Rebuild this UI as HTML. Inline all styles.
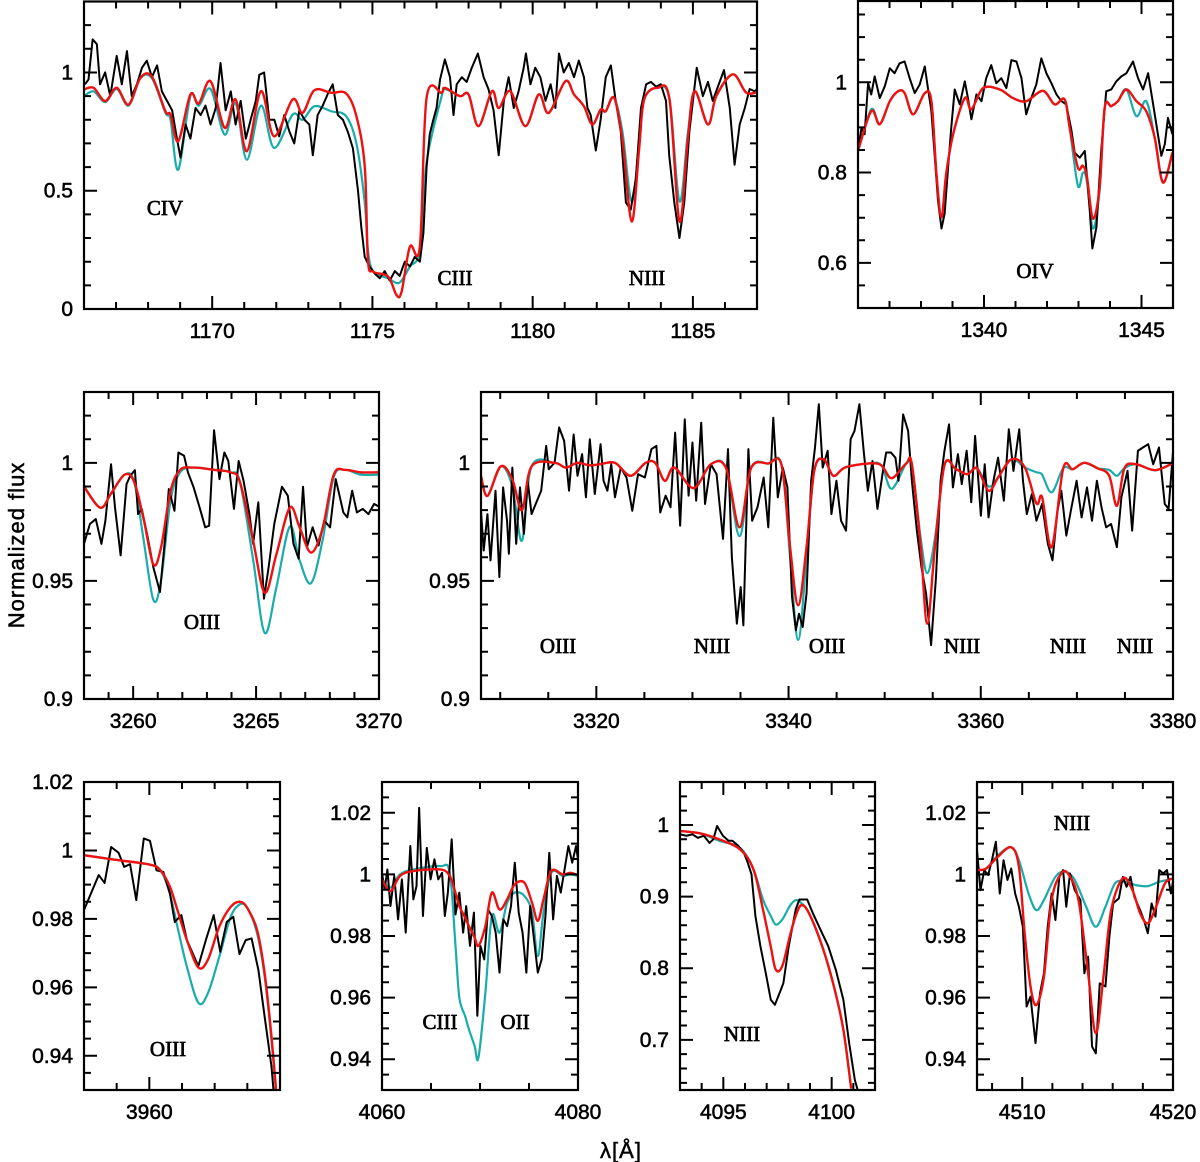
<!DOCTYPE html>
<html><head><meta charset="utf-8"><style>
html,body{margin:0;padding:0;background:#fff;}
svg{display:block;}
.tk{font-family:"Liberation Sans",sans-serif;font-size:21px;fill:#000;stroke:#000;stroke-width:0.55;}
.ln{font-family:"Liberation Serif",serif;font-size:21px;fill:#000;stroke:#000;stroke-width:0.7;}
.ax{font-family:"Liberation Sans",sans-serif;font-size:22px;fill:#000;stroke:#000;stroke-width:0.5;letter-spacing:1px;}
</style></head><body>
<svg id="chart" width="1200" height="1162" viewBox="0 0 1200 1162" xmlns="http://www.w3.org/2000/svg">
<text class="ax" transform="translate(24,545) rotate(-90)" text-anchor="middle">Normalized flux</text>
<text class="ax" x="621" y="1158" text-anchor="middle">λ[Å]</text>
</svg>
<script>
// ---------- Panel 1 (C IV / C III / N III, 1166-1187) ----------
const p1ObsWl=[1166.03,1166.14,1166.27,1166.40,1166.50,1166.66,1166.82,1167.02,1167.18,1167.34,1167.49,1167.65,1167.81,1167.96,1168.12,1168.28,1168.43,1168.59,1168.75,1168.90,1169.01,1169.17,1169.32,1169.48,1169.64,1169.79,1169.95,1170.11,1170.26,1170.42,1170.58,1170.73,1170.89,1171.05,1171.20,1171.36,1171.47,1171.62,1171.78,1171.94,1172.09,1172.25,1172.41,1172.56,1172.72,1172.88,1173.03,1173.14,1173.29,1173.45,1173.61,1173.76,1173.92,1174.08,1174.23,1174.39,1174.55,1174.65,1174.76,1174.91,1175.07,1175.23,1175.38,1175.54,1175.70,1175.85,1176.01,1176.17,1176.32,1176.48,1176.59,1176.69,1176.79,1176.90,1177.00,1177.11,1177.26,1177.42,1177.53,1177.63,1177.79,1177.94,1178.10,1178.29,1178.47,1178.62,1178.78,1178.94,1179.10,1179.25,1179.41,1179.56,1179.72,1179.79,1179.93,1180.08,1180.24,1180.40,1180.56,1180.71,1180.82,1180.97,1181.13,1181.29,1181.44,1181.60,1181.71,1181.81,1181.97,1182.12,1182.28,1182.44,1182.59,1182.75,1182.91,1183.06,1183.22,1183.38,1183.54,1183.69,1183.85,1184.00,1184.16,1184.26,1184.42,1184.58,1184.73,1184.89,1185.12,1185.31,1185.47,1185.62,1185.78,1185.97,1186.15,1186.30,1186.46,1186.62,1186.77,1186.93,1187.07];
const p1ObsFlux=[0.95,0.97,1.14,1.12,0.95,1.0,0.9,1.07,0.95,1.09,0.9,0.95,1.02,1.05,0.98,1.03,0.92,0.88,0.84,0.72,0.64,0.78,0.72,0.85,0.82,0.86,0.78,0.85,1.04,0.84,0.92,0.78,0.88,0.72,0.80,0.88,0.99,1.0,0.8,0.80,0.73,0.82,0.75,0.70,0.84,0.80,0.78,0.65,0.82,0.86,0.91,0.95,0.82,0.80,0.75,0.68,0.5,0.35,0.22,0.18,0.15,0.13,0.16,0.12,0.16,0.14,0.2,0.18,0.22,0.2,0.32,0.6,0.74,0.80,0.85,0.97,1.055,0.98,0.82,0.95,0.98,0.96,1.02,1.08,0.98,0.93,0.84,0.65,0.88,0.98,0.85,0.92,1.02,1.08,0.95,1.02,0.98,0.88,0.95,0.85,1.08,1.0,1.04,0.98,1.05,0.98,0.85,0.82,0.67,0.80,0.98,1.03,0.88,0.75,0.45,0.42,0.55,0.85,0.95,0.96,0.94,0.95,0.88,0.65,0.45,0.30,0.45,0.75,1.02,0.9,0.96,0.88,0.94,1.01,0.85,0.61,0.78,0.85,0.93,0.92,0.94];
const p1ModWl=[1166.0,1166.3,1166.66,1167.02,1167.39,1167.76,1168.12,1168.54,1168.70,1168.94,1169.32,1169.58,1169.95,1170.39,1170.73,1171.08,1171.52,1171.93,1172.51,1172.82,1173.19,1173.71,1174.18,1174.50,1174.76,1174.86,1175.02,1175.49,1175.75,1175.91,1176.17,1176.48,1176.69,1177.16,1177.26,1177.73,1178.0,1178.31,1178.73,1178.94,1179.30,1179.77,1180.19,1180.50,1181.02,1181.29,1181.60,1181.86,1182.12,1182.28,1182.54,1182.80,1183.09,1183.32,1183.48,1183.90,1184.27,1184.58,1184.84,1185.05,1185.47,1185.73,1186.25,1186.67,1187.07];
const p1Red=[0.928,0.935,0.879,0.935,0.864,0.977,0.982,0.836,0.822,0.709,0.907,0.869,0.963,0.766,0.886,0.667,0.921,0.730,0.886,0.829,0.925,0.914,0.911,0.815,0.603,0.208,0.158,0.137,0.059,0.073,0.264,0.264,0.893,0.914,0.935,0.900,0.907,0.773,0.921,0.850,0.921,0.773,0.907,0.829,0.963,0.907,0.857,0.780,0.843,0.836,0.893,0.716,0.370,0.674,0.886,0.935,0.886,0.370,0.716,0.921,0.780,0.900,0.992,0.914,0.921];
const p1Cyan=[0.90,0.92,0.875,0.93,0.86,0.975,0.975,0.83,0.80,0.589,0.90,0.86,0.93,0.737,0.87,0.631,0.86,0.681,0.822,0.80,0.857,0.836,0.815,0.70,0.45,0.25,0.16,0.13,0.11,0.12,0.18,0.25,0.62,0.90,0.93,0.900,0.907,0.773,0.921,0.850,0.921,0.773,0.907,0.829,0.963,0.907,0.857,0.780,0.843,0.836,0.893,0.75,0.455,0.70,0.886,0.935,0.886,0.455,0.74,0.921,0.780,0.900,0.992,0.914,0.921];

// ---------- Panel 2 (O IV, 1336-1346) ----------
const p2ObsWl=[1336.00,1336.11,1336.21,1336.32,1336.42,1336.53,1336.69,1336.85,1337.01,1337.16,1337.32,1337.48,1337.64,1337.80,1337.96,1338.12,1338.22,1338.33,1338.43,1338.54,1338.65,1338.75,1338.86,1338.96,1339.07,1339.23,1339.39,1339.49,1339.60,1339.76,1339.92,1340.07,1340.23,1340.39,1340.55,1340.71,1340.87,1341.03,1341.19,1341.34,1341.50,1341.66,1341.82,1341.98,1342.14,1342.30,1342.46,1342.61,1342.77,1342.88,1343.04,1343.20,1343.35,1343.44,1343.57,1343.72,1343.88,1344.04,1344.20,1344.36,1344.52,1344.73,1344.89,1345.05,1345.21,1345.37,1345.52,1345.63,1345.74,1345.84,1345.98];
const p2ObsFlux=[0.848,0.899,0.885,0.998,0.973,1.013,0.965,0.991,1.031,1.020,1.042,1.046,1.009,0.976,0.995,1.035,0.987,0.936,0.841,0.738,0.676,0.709,0.811,0.899,0.984,0.951,1.002,0.965,0.918,0.973,0.958,1.009,1.038,0.998,1.009,0.987,1.049,1.046,1.009,0.929,0.965,0.995,1.053,1.020,0.998,0.973,0.958,0.951,0.896,0.844,0.833,0.848,0.723,0.632,0.679,0.848,0.980,0.984,1.002,1.013,1.020,1.046,1.009,0.984,1.020,0.951,0.885,0.837,0.863,0.921,0.885];
const p2ModWl=[1336.00,1336.42,1336.69,1337.01,1337.27,1337.48,1337.75,1338.12,1338.33,1338.49,1338.65,1338.80,1339.02,1339.39,1339.60,1339.97,1340.50,1340.92,1341.34,1341.87,1342.24,1342.56,1342.72,1342.98,1343.14,1343.27,1343.46,1343.67,1343.83,1344.04,1344.25,1344.52,1344.84,1345.15,1345.42,1345.68,1345.98];
const p2Red=[0.848,0.936,0.907,0.958,0.980,0.976,0.929,0.976,0.958,0.797,0.701,0.797,0.885,0.965,0.940,0.987,0.984,0.965,0.958,0.981,0.951,0.962,0.899,0.811,0.815,0.789,0.698,0.768,0.943,0.947,0.958,0.984,0.958,0.936,0.877,0.778,0.844];
const p2Cyan=[0.848,0.940,0.907,0.958,0.980,0.976,0.929,0.976,0.958,0.797,0.701,0.797,0.885,0.965,0.940,0.987,0.984,0.965,0.958,0.981,0.951,0.962,0.899,0.771,0.800,0.780,0.676,0.760,0.943,0.947,0.958,0.984,0.925,0.958,0.877,0.778,0.844];

// ---------- Panel 3 (O III, 3258-3270) ----------
const p3ObsWl=[3258.0,3258.24,3258.48,3258.71,3258.87,3259.10,3259.26,3259.49,3259.73,3259.88,3260.07,3260.20,3260.35,3260.59,3260.82,3261.09,3261.29,3261.45,3261.68,3261.84,3262.07,3262.23,3262.46,3262.70,3262.93,3263.09,3263.29,3263.51,3263.71,3263.87,3264.10,3264.29,3264.49,3264.73,3264.88,3265.09,3265.32,3265.51,3265.74,3266.05,3266.29,3266.52,3266.73,3266.91,3267.07,3267.30,3267.54,3267.77,3268.01,3268.24,3268.55,3268.71,3268.91,3269.10,3269.34,3269.57,3269.80,3270.05];
const p3ObsFlux=[0.9657,0.9741,0.9762,0.9657,0.9755,0.9994,0.9812,0.9608,0.9910,0.9945,0.9969,0.9783,0.9805,0.9685,0.9558,0.9453,0.9671,0.9889,0.9797,1.0044,1.0030,0.9959,0.9896,0.9812,0.9727,0.9734,1.0138,0.9931,1.0044,1.0008,0.9805,1.0008,0.9924,0.9783,0.9657,0.9833,0.9425,0.9558,0.9741,0.9899,0.9861,0.9657,0.9594,0.9899,0.9643,0.9727,0.9650,0.9755,0.9727,0.9931,0.9790,0.9769,0.9882,0.9790,0.9805,0.9783,0.9826,0.9812];
const p3ModWl=[3258.0,3258.66,3259.10,3259.65,3260.04,3260.43,3260.82,3261.13,3261.52,3261.91,3262.46,3263.32,3263.95,3264.34,3264.88,3265.35,3265.82,3266.37,3266.76,3267.23,3267.70,3268.16,3268.63,3269.26,3270.06];
const p3Red=[0.990,0.981,0.987,0.995,0.992,0.976,0.957,0.964,0.988,0.997,0.998,0.997,0.996,0.992,0.967,0.945,0.961,0.981,0.973,0.962,0.972,0.995,0.997,0.996,0.996];
const p3Cyan=[0.990,0.981,0.987,0.995,0.992,0.967,0.942,0.950,0.984,0.996,0.998,0.997,0.996,0.992,0.959,0.928,0.947,0.973,0.959,0.949,0.967,0.994,0.997,0.995,0.995];

// ---------- Panel 4 (N III / O III, 3308-3380) ----------
const p4ObsWl=[3308.0,3308.28,3308.67,3308.99,3309.51,3309.91,3310.30,3310.71,3310.90,3311.26,3311.66,3312.06,3312.46,3312.86,3313.26,3314.26,3314.78,3315.05,3315.65,3316.13,3316.65,3317.16,3317.64,3318.04,3318.52,3318.92,3319.32,3319.84,3320.44,3320.75,3321.15,3321.55,3321.94,3322.54,3323.14,3323.74,3324.34,3325.05,3325.73,3326.25,3326.65,3327.21,3327.72,3328.20,3328.72,3329.20,3329.60,3330.00,3330.39,3330.91,3331.31,3331.91,3332.51,3333.18,3333.70,3334.10,3334.62,3335.02,3335.30,3335.82,3336.21,3336.77,3337.41,3337.89,3338.41,3338.88,3339.40,3339.88,3340.36,3340.76,3341.08,3341.47,3341.87,3342.35,3342.75,3343.15,3343.55,3344.07,3344.46,3344.98,3345.46,3345.98,3346.46,3346.86,3347.37,3347.85,3348.25,3348.73,3349.25,3349.77,3350.16,3350.64,3351.12,3351.44,3351.92,3352.44,3352.83,3353.35,3353.83,3354.31,3354.83,3355.34,3355.82,3356.22,3356.70,3357.10,3357.62,3358.02,3358.53,3359.01,3359.41,3360.01,3360.41,3360.81,3361.32,3361.80,3362.40,3362.92,3363.40,3364.00,3364.39,3364.79,3365.31,3365.79,3366.38,3366.98,3367.46,3367.98,3368.38,3368.90,3369.37,3369.97,3370.49,3371.05,3371.57,3372.08,3372.56,3373.04,3373.56,3374.16,3374.63,3375.27,3375.75,3376.35,3376.87,3377.42,3377.94,3378.54,3379.14,3379.54,3380.06];
const p4ObsFlux=[0.9797,0.9629,0.9783,0.9587,0.9882,0.9516,0.9896,0.9755,0.9615,0.9980,0.9657,0.9896,0.9699,0.9924,0.9783,0.9882,1.0072,0.9973,1.0000,1.0150,1.0093,0.9882,1.0120,0.9945,1.0037,0.9854,1.0100,0.9868,1.0079,0.9924,0.9882,0.9994,0.9854,0.9980,0.9938,0.9797,0.9952,0.9938,1.0058,1.0072,0.9790,0.9861,0.9812,1.0128,0.9734,1.0184,0.9861,1.0086,0.9840,1.0170,0.9826,0.9994,0.9952,0.9678,1.0058,0.9601,0.9319,0.9474,0.9312,1.0058,0.9755,0.9812,0.9938,0.9727,1.0191,0.9854,0.9980,0.9896,0.9432,0.9291,0.9361,0.9305,0.9446,0.9924,1.0065,1.0248,0.9980,1.0051,0.9783,0.9924,0.9755,0.9713,1.0100,1.0135,1.0248,1.0037,0.9882,1.0008,0.9805,0.9952,1.0044,1.0044,1.0022,0.9924,1.0205,1.0135,0.9924,0.9713,0.9558,0.9446,0.9228,0.9516,0.9924,1.0051,1.0163,0.9896,1.0037,0.9910,1.0051,0.9833,1.0114,0.9776,0.9994,0.9769,0.9924,1.0022,0.9840,1.0142,0.9966,1.0142,0.9924,0.9783,0.9868,0.9755,0.9826,0.9657,0.9587,0.9797,0.9882,0.9692,0.9797,0.9924,0.9769,0.9896,0.9755,0.9924,0.9812,0.9727,0.9741,0.9643,0.9854,0.9966,0.9713,1.0051,1.0065,1.0079,0.9994,1.0065,0.9826,0.9805,1.0079];
const p4ModWl=[3308.0,3308.67,3310.05,3311.26,3312.26,3313.26,3315.65,3316.84,3318.04,3319.24,3320.35,3321.94,3323.54,3325.13,3326.13,3327.13,3328.12,3330.12,3331.91,3333.50,3334.90,3336.09,3337.89,3339.28,3340.16,3341.00,3341.87,3342.67,3343.67,3344.66,3345.86,3348.25,3349.65,3350.72,3352.24,3352.83,3353.75,3354.43,3355.23,3356.22,3357.42,3358.61,3359.61,3360.81,3361.80,3363.20,3364.59,3365.79,3366.38,3367.38,3368.58,3369.57,3370.77,3372.16,3373.36,3374.16,3374.95,3376.15,3378.14,3380.06];
const p4Red=[0.9945,0.986,0.9985,0.993,0.980,0.9985,1.0,0.998,1.0,0.999,0.9994,1.0,0.9945,1.0,1.0,0.9924,0.998,0.9893,0.9994,0.9977,0.9727,0.9977,0.9997,0.999,0.9643,0.9397,0.9643,0.9966,1.0015,0.9945,0.998,0.9997,0.999,0.9935,0.9997,0.9994,0.9643,0.9319,0.9643,0.999,0.9973,0.9952,0.9977,0.9882,0.9938,1.0015,0.998,0.9828,0.9854,0.9643,0.9977,0.9973,1.0,0.9977,0.9945,0.9818,0.9977,0.9994,0.9969,1.0];
const p4Cyan=[0.9945,0.986,0.9985,0.990,0.967,0.9985,1.0,0.998,1.0,0.999,0.9994,1.0,0.9945,1.0,1.0,0.9924,0.998,0.9893,0.9994,0.9977,0.969,0.9977,0.9997,0.999,0.960,0.925,0.960,0.9966,1.0015,0.9945,0.998,0.9997,0.999,0.989,0.9997,0.9994,0.968,0.9533,0.968,0.999,0.9973,0.9952,0.9977,0.990,0.9938,1.0015,0.998,0.996,0.995,0.9875,0.9977,0.9973,1.0,0.9977,0.997,0.9945,0.9977,0.9994,0.9969,1.0];

// ---------- Panel 5 (O III 3961, 3958-3964) ----------
const p5ObsWl=[3958.0,3958.45,3958.63,3958.83,3959.06,3959.23,3959.41,3959.60,3959.83,3960.02,3960.22,3960.43,3960.63,3960.78,3960.98,3961.15,3961.50,3961.73,3961.97,3962.17,3962.37,3962.57,3962.76,3962.95,3963.13,3963.34,3963.53,3963.74,3963.80];
const p5ObsFlux=[0.9826,0.9928,0.9905,1.0010,0.9993,0.9952,0.9960,0.9855,1.0035,1.0028,0.9942,0.9937,0.9874,0.9791,0.9811,0.9738,0.9662,0.9738,0.9811,0.9704,0.9791,0.9806,0.9697,0.9738,0.9743,0.9650,0.9514,0.9368,0.9300];
const p5ModWl=[3958.0,3958.94,3959.99,3960.34,3960.63,3960.86,3961.15,3961.50,3961.79,3962.14,3962.49,3962.78,3963.01,3963.30,3963.53,3963.73,3963.88];
const p5Red=[0.9986,0.9973,0.9959,0.9942,0.9894,0.9826,0.9738,0.9658,0.9680,0.9777,0.9835,0.9850,0.9830,0.9767,0.9641,0.9465,0.9300];
const p5Cyan=[0.9986,0.9973,0.9959,0.9942,0.9874,0.9777,0.9660,0.9555,0.9582,0.9689,0.9806,0.9843,0.9830,0.9757,0.9632,0.9455,0.9295];

// ---------- Panel 6 (C III / O II, 4060-4080) ----------
const p6ObsWl=[4060.0,4060.27,4060.55,4060.86,4061.25,4061.64,4062.03,4062.42,4062.89,4063.20,4063.52,4063.79,4064.18,4064.57,4064.96,4065.35,4065.74,4066.13,4066.41,4066.72,4067.11,4067.50,4067.89,4068.28,4068.59,4068.98,4069.38,4069.73,4070.04,4070.43,4070.82,4071.21,4071.60,4071.99,4072.38,4072.77,4073.16,4073.55,4073.95,4074.34,4074.73,4075.12,4075.51,4075.90,4076.29,4076.68,4077.07,4077.46,4077.85,4078.24,4078.63,4079.02,4079.41,4079.80,4080.0];
const p6ObsFlux=[1.0005,0.9951,1.0016,0.9897,0.9995,0.9854,0.9984,0.9811,1.0092,0.9919,0.9962,1.0216,0.9865,1.0086,0.9984,1.0049,0.9984,1.0005,0.9865,0.9941,1.0114,0.9870,0.9941,0.9811,0.9897,0.9768,0.9876,0.9541,0.9768,0.9724,0.9886,0.9865,0.9811,0.9681,0.9854,0.9832,0.9897,1.0038,0.9876,0.9811,0.9681,0.9897,0.9789,0.9681,0.9724,0.9865,1.0070,0.9854,0.9995,0.9941,1.0016,1.0092,1.0038,1.0092,1.0049];
const p6ModWl=[4060.0,4060.86,4061.84,4063.20,4065.94,4066.91,4067.50,4067.89,4068.48,4068.87,4069.45,4069.84,4070.55,4071.21,4071.99,4072.77,4073.55,4074.53,4075.31,4075.90,4076.48,4077.27,4078.44,4079.22,4080.0];
const p6Red=[0.9984,0.9946,0.9995,1.0011,1.0016,0.9995,0.9940,0.9897,0.9860,0.9832,0.9795,0.9768,0.9832,0.9941,0.9886,0.9919,0.9968,0.9973,0.9908,0.9849,0.9919,1.0011,1.0000,1.0005,0.9997];
const p6Cyan=[0.9984,0.9957,1.0000,1.0016,1.0027,1.0005,0.9768,0.9600,0.9540,0.9497,0.9443,0.9405,0.9616,0.9865,0.9811,0.9908,0.9941,0.9930,0.9876,0.9735,0.9876,1.0005,0.9995,1.0000,0.9995];

// ---------- Panel 7 (N III 4097, 4093-4102) ----------
const p7ObsWl=[4093.0,4093.30,4093.57,4093.83,4094.10,4094.36,4094.54,4094.71,4094.98,4095.24,4095.42,4095.69,4095.95,4096.13,4096.30,4096.48,4096.71,4096.96,4097.19,4097.38,4097.54,4097.77,4098.02,4098.34,4098.51,4098.87,4099.13,4099.48,4099.84,4100.19,4100.54,4100.81,4101.07,4101.20];
const p7ObsFlux=[0.987,0.985,0.987,0.982,0.985,0.975,0.980,0.9986,0.985,0.978,0.978,0.971,0.961,0.947,0.931,0.873,0.831,0.793,0.756,0.749,0.761,0.779,0.831,0.882,0.896,0.896,0.877,0.854,0.831,0.798,0.756,0.695,0.644,0.630];
const p7ModWl=[4093.0,4093.92,4094.80,4095.77,4096.39,4096.83,4097.19,4097.42,4097.72,4098.07,4098.34,4098.60,4098.95,4099.57,4100.10,4100.54,4100.90];
const p7Red=[0.9916,0.9883,0.980,0.966,0.938,0.882,0.830,0.798,0.803,0.845,0.873,0.888,0.877,0.830,0.775,0.714,0.632];
const p7Cyan=[0.9916,0.9883,0.978,0.968,0.938,0.896,0.873,0.861,0.868,0.887,0.895,0.891,0.877,0.830,0.775,0.714,0.632];

// ---------- Panel 8 (N III 4511-4515, 4507-4520) ----------
const p8ObsWl=[4507.0,4507.23,4507.48,4507.74,4507.99,4508.25,4508.51,4508.76,4509.02,4509.27,4509.53,4509.78,4510.04,4510.29,4510.55,4510.88,4511.18,4511.44,4511.69,4511.95,4512.20,4512.46,4512.71,4512.92,4513.17,4513.48,4513.86,4514.12,4514.37,4514.63,4514.88,4515.14,4515.52,4515.78,4516.03,4516.41,4516.67,4516.92,4517.18,4517.43,4517.82,4518.07,4518.33,4518.58,4518.84,4519.09,4519.35,4519.60,4519.86,4520.06];
const p8ObsFlux=[1.0079,0.9949,1.0014,0.9998,1.0046,1.0106,0.9938,1.0046,0.9982,1.0019,0.9938,0.9895,0.9830,0.9571,0.9603,0.9452,0.9614,0.9679,0.9830,0.9938,0.9852,0.9992,1.0014,0.9895,1.0003,0.9949,0.9917,0.9679,0.9733,0.9441,0.9419,0.9646,0.9636,0.9798,0.9906,0.9922,0.9992,0.9960,0.9992,0.9928,0.9884,0.9852,0.9809,0.9906,0.9863,1.0014,1.0003,1.0014,0.9938,0.9992];
const p8RedWl=[4507.0,4507.61,4508.38,4509.27,4509.78,4510.16,4510.55,4510.93,4511.44,4511.95,4512.59,4513.10,4513.73,4514.37,4514.88,4515.39,4515.90,4516.67,4517.31,4517.82,4518.33,4518.84,4519.47,4520.06];
const p8Red=[1.0014,1.0019,1.0057,1.0088,1.0025,0.9809,0.9636,0.9576,0.9668,0.9917,1.0003,0.9998,0.9917,0.9679,0.9484,0.9668,0.9884,0.9987,0.9949,0.9874,0.9841,0.9890,0.9971,0.9987];
const p8CyanWl=[4507.0,4507.61,4508.38,4509.27,4509.78,4510.42,4510.93,4511.44,4512.20,4512.84,4513.48,4514.24,4514.88,4515.52,4516.16,4516.80,4517.56,4518.33,4519.09,4520.06];
const p8Cyan=[1.0014,1.0019,1.0062,1.0088,1.0046,0.9938,0.9884,0.9917,0.9992,1.0009,0.9982,0.9895,0.9830,0.9895,0.9971,0.9976,0.9965,0.9962,0.9976,0.9987];

// ---------- tick labels ----------
const p1XTicks=[1170,1175,1180,1185], p1YTicks=[0,0.5,1], p1YLabels=["0","0.5","1"];
const p2XTicks=[1340,1345], p2YTicks=[0.6,0.8,1], p2YLabels=["0.6","0.8","1"];
const p3XTicks=[3260,3265,3270], p3YTicks=[0.9,0.95,1], p3YLabels=["0.9","0.95","1"];
const p4XTicks=[3320,3340,3360,3380], p4YTicks=[0.9,0.95,1], p4YLabels=["0.9","0.95","1"];
const p5XTicks=[3960], p5YTicks=[0.94,0.96,0.98,1,1.02], p5YLabels=["0.94","0.96","0.98","1","1.02"];
const p6XTicks=[4060,4080], p6YTicks=[0.94,0.96,0.98,1,1.02], p6YLabels=["0.94","0.96","0.98","1","1.02"];
const p7XTicks=[4095,4100], p7YTicks=[0.7,0.8,0.9,1], p7YLabels=["0.7","0.8","0.9","1"];
const p8XTicks=[4510,4520], p8YTicks=[0.94,0.96,0.98,1,1.02], p8YLabels=["0.94","0.96","0.98","1","1.02"];

const NS="http://www.w3.org/2000/svg";
const svg=document.getElementById('chart');
const panels=[
 {id:'panel-civ',box:[84,1.5,757,309],xr:[1166,1187],yr:[0,1.3],xt:p1XTicks,xm:1,yt:p1YTicks,yl:p1YLabels,ym:0.1,
  obs:[p1ObsWl,p1ObsFlux],cyan:[p1ModWl,p1Cyan],red:[p1ModWl,p1Red],
  labels:[["CIV",165,215],["CIII",455,285],["NIII",647,285]]},
 {id:'panel-oiv',box:[858,1,1173,308],xr:[1336,1346],yr:[0.5,1.18],xt:p2XTicks,xm:1,yt:p2YTicks,yl:p2YLabels,ym:0.05,
  obs:[p2ObsWl,p2ObsFlux],cyan:[p2ModWl,p2Cyan],red:[p2ModWl,p2Red],labels:[["OIV",1035,278]]},
 {id:'panel-oiii-3260',box:[84,392,379,699],xr:[3258,3270],yr:[0.9,1.03],xt:p3XTicks,xm:1,yt:p3YTicks,yl:p3YLabels,ym:0.01,
  obs:[p3ObsWl,p3ObsFlux],cyan:[p3ModWl,p3Cyan],red:[p3ModWl,p3Red],labels:[["OIII",202,629]]},
 {id:'panel-3340',box:[481,392,1173,699],xr:[3308,3380],yr:[0.9,1.03],xt:p4XTicks,xm:5,yt:p4YTicks,yl:p4YLabels,ym:0.01,
  obs:[p4ObsWl,p4ObsFlux],cyan:[p4ModWl,p4Cyan],red:[p4ModWl,p4Red],
  labels:[["OIII",558,653],["NIII",712,653],["OIII",827,653],["NIII",962,653],["NIII",1068,653],["NIII",1135,653]]},
 {id:'panel-oiii-3961',box:[84,782,280,1090],xr:[3958,3964],yr:[0.93,1.02],xt:p5XTicks,xm:1,yt:p5YTicks,yl:p5YLabels,ym:0.005,
  obs:[p5ObsWl,p5ObsFlux],cyan:[p5ModWl,p5Cyan],red:[p5ModWl,p5Red],labels:[["OIII",168,1056]]},
 {id:'panel-ciii-4070',box:[382,782,578,1090],xr:[4060,4080],yr:[0.93,1.03],xt:p6XTicks,xm:5,yt:p6YTicks,yl:p6YLabels,ym:0.005,
  obs:[p6ObsWl,p6ObsFlux],cyan:[p6ModWl,p6Cyan],red:[p6ModWl,p6Red],labels:[["CIII",440,1029],["OII",515,1029]]},
 {id:'panel-niii-4097',box:[680,782,875,1090],xr:[4093,4102],yr:[0.63,1.06],xt:p7XTicks,xm:1,yt:p7YTicks,yl:p7YLabels,ym:0.02,
  obs:[p7ObsWl,p7ObsFlux],cyan:[p7ModWl,p7Cyan],red:[p7ModWl,p7Red],labels:[["NIII",742,1041]]},
 {id:'panel-niii-4514',box:[977,782,1173,1090],xr:[4507,4520],yr:[0.93,1.03],xt:p8XTicks,xm:2,yt:p8YTicks,yl:p8YLabels,ym:0.005,
  obs:[p8ObsWl,p8ObsFlux],cyan:[p8CyanWl,p8Cyan],red:[p8RedWl,p8Red],labels:[["NIII",1072,830]]}
];
function mk(tag,attrs,parent){const e=document.createElementNS(NS,tag);for(const k in attrs)e.setAttribute(k,attrs[k]);(parent||svg).appendChild(e);return e;}
function linPath(xs,ys,sx,sy){let d='';for(let i=0;i<xs.length;i++)d+=(i?'L':'M')+sx(xs[i]).toFixed(2)+','+sy(ys[i]).toFixed(2);return d;}
function smoothPath(xs,ys,sx,sy){
 const P=xs.map((x,i)=>[sx(x),sy(ys[i])]);let d='M'+P[0][0].toFixed(2)+','+P[0][1].toFixed(2);
 for(let i=0;i<P.length-1;i++){const p0=P[Math.max(0,i-1)],p1=P[i],p2=P[i+1],p3=P[Math.min(P.length-1,i+2)];
  const c1=[p1[0]+(p2[0]-p0[0])/6,p1[1]+(p2[1]-p0[1])/6],c2=[p2[0]-(p3[0]-p1[0])/6,p2[1]-(p3[1]-p1[1])/6];
  d+='C'+c1[0].toFixed(2)+','+c1[1].toFixed(2)+' '+c2[0].toFixed(2)+','+c2[1].toFixed(2)+' '+p2[0].toFixed(2)+','+p2[1].toFixed(2);}
 return d;}
panels.forEach((p,pi)=>{
 const [x0,y0,x1,y1]=p.box;
 const sx=v=>x0+(v-p.xr[0])/(p.xr[1]-p.xr[0])*(x1-x0);
 const sy=v=>y1-(v-p.yr[0])/(p.yr[1]-p.yr[0])*(y1-y0);
 const g=mk('g',{});
 
 
 const cp=mk('clipPath',{id:'clip'+pi},g);mk('rect',{x:x0,y:y0,width:x1-x0,height:y1-y0},cp);
 const series=mk('g',{'clip-path':'url(#clip'+pi+')'},g);
 const c=mk('path',{d:smoothPath(p.cyan[0],p.cyan[1],sx,sy),fill:'none',stroke:'#1aacab','stroke-width':2.2,'stroke-linejoin':'round'},series);
 
 
 const o=mk('path',{d:linPath(p.obs[0],p.obs[1],sx,sy),fill:'none',stroke:'#000','stroke-width':2,'stroke-linejoin':'round'},series);
 
 
 const r=mk('path',{d:smoothPath(p.red[0],p.red[1],sx,sy),fill:'none',stroke:'#ee1111','stroke-width':2.4,'stroke-linejoin':'round'},series);
 
 
 let td='';
 const eps=1e-6;
 const xStart=Math.ceil(p.xr[0]/p.xm-eps)*p.xm;
 for(let v=xStart;v<=p.xr[1]+eps;v+=p.xm){const X=sx(v);const major=p.xt.some(t=>Math.abs(t-v)<eps);const L=major?13:7;
  td+=`M${X},${y1}V${y1-L}M${X},${y0}V${y0+L}`;}
 const yStart=Math.ceil(p.yr[0]/p.ym-eps)*p.ym;
 for(let v=yStart;v<=p.yr[1]+eps;v+=p.ym){const Y=sy(v);const major=p.yt.some(t=>Math.abs(t-v)<1e-6);const L=major?13:7;
  td+=`M${x0},${Y}H${x0+L}M${x1},${Y}H${x1-L}`;}
 const tk=mk('path',{d:td,stroke:'#000','stroke-width':2,fill:'none'},g);
 
 
 const fr=mk('rect',{x:x0,y:y0,width:x1-x0,height:y1-y0,fill:'none',stroke:'#000','stroke-width':2.2},g);
 
 
 p.xt.forEach(v=>{const t=mk('text',{class:'tk',x:sx(v),y:y1+29,'text-anchor':'middle'},g);t.textContent=String(v);
  
  });
 p.yt.forEach((v,i)=>{const t=mk('text',{class:'tk',x:x0-11,y:sy(v)+7,'text-anchor':'end'},g);t.textContent=p.yl[i];
  
  });
 p.labels.forEach(l=>{const t=mk('text',{class:'ln',x:l[1],y:l[2],'text-anchor':'middle'},g);t.textContent=l[0];
  
  });
});
</script>
</body></html>
